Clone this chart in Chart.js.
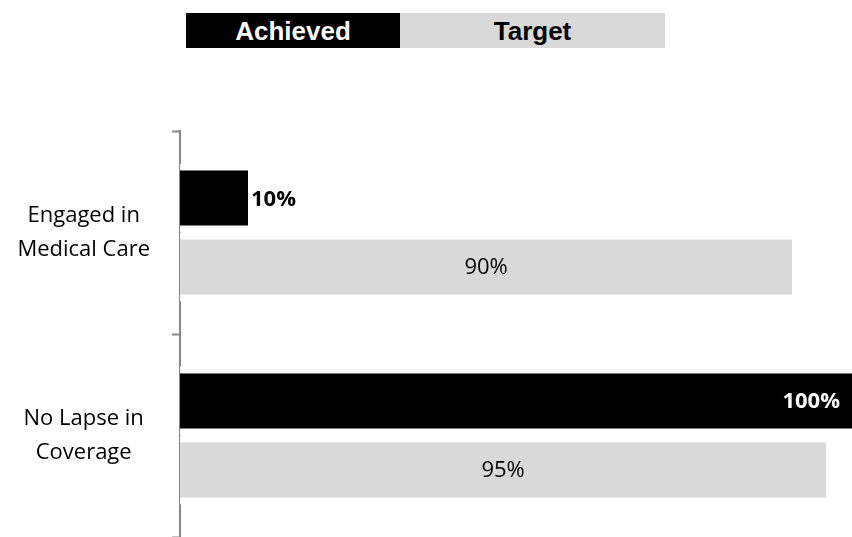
<!DOCTYPE html>
<html>
<head>
<meta charset="utf-8">
<script src="https://cdn.jsdelivr.net/npm/chart.js@4"></script>
<style>
    html, body { margin: 0; padding: 0; background: #fff; }
    #wrap { position: relative; width: 852px; height: 537px; overflow: hidden; }
    #legend { position: absolute; left: 186px; top: 13px; display: flex; }
    #legend div {
        height: 35px; line-height: 36px; text-align: center;
        font-family: "Liberation Sans", Arial, sans-serif; font-weight: bold; font-size: 26px;
    }
    #chart { position: absolute; left: 0; top: 0; }
</style>
</head>
<body>
<div id="wrap">
    <canvas id="chart" width="852" height="537"></canvas>
    <div id="legend">
        <div style="width:214px;background:#000;color:#fff;">Achieved</div>
        <div style="width:265px;background:#d9d9d9;color:#000;">Target</div>
    </div>
</div>
<script>
// данные
const categories = [['Engaged in', 'Medical Care'], ['No Lapse in', 'Coverage']];
const achieved = [10, 100];
const target = [90, 95];

// подписи на столбцах
const barLabels = {
    id: 'barLabels',
    afterDatasetsDraw(chart) {
        const ctx = chart.ctx;
        const area = chart.chartArea;
        ctx.save();
        ctx.textBaseline = 'middle';
        chart.data.datasets.forEach((ds, i) => {
            chart.getDatasetMeta(i).data.forEach((bar, j) => {
                const v = ds.data[j];
                const text = v + '%';
                if (i === 0) {
                    ctx.font = 'bold 22px "Open Sans", sans-serif';
                    if (v < 50) {
                        ctx.fillStyle = '#000';
                        ctx.textAlign = 'left';
                        ctx.fillText(text, bar.x + 3, bar.y + 2);
                    } else {
                        ctx.fillStyle = '#fff';
                        ctx.textAlign = 'right';
                        ctx.fillText(text, Math.min(bar.x, area.right) - 12, bar.y + 1);
                    }
                } else {
                    ctx.font = '22px "Open Sans", sans-serif';
                    ctx.fillStyle = '#000';
                    ctx.textAlign = 'center';
                    ctx.fillText(text, (bar.x + bar.base) / 2, bar.y + 1);
                }
            });
        });
        ctx.restore();
    }
};

const ctx = document.getElementById('chart').getContext('2d');
const chart = new Chart(ctx, {
    type: 'bar',
    data: {
        labels: categories,
        datasets: [
            {
                label: 'Achieved',
                data: achieved,
                backgroundColor: '#000000',
                borderColor: '#ffffff',
                borderWidth: { top: 7, bottom: 7, left: 0, right: 0 },
                borderSkipped: false
            },
            {
                label: 'Target',
                data: target,
                backgroundColor: '#d9d9d9',
                borderColor: '#ffffff',
                borderWidth: { top: 7, bottom: 7, left: 0, right: 0 },
                borderSkipped: false
            }
        ]
    },
    options: {
        indexAxis: 'y',
        responsive: false,
        animation: false,
        categoryPercentage: 0.68,
        barPercentage: 1,
        layout: { padding: { top: 131, right: 0, bottom: 0, left: 0 } },
        plugins: {
            legend: { display: false },
            tooltip: { enabled: false }
        },
        scales: {
            x: {
                display: false,
                min: 0,
                max: 98.8
            },
            y: {
                afterFit(scale) {
                    scale.width = 180;
                    scale.paddingTop = 0;
                    scale.paddingBottom = 0;
                },
                border: { display: true, color: '#868686', width: 2 },
                grid: {
                    offset: true,
                    drawOnChartArea: false,
                    tickLength: 8,
                    tickWidth: 2,
                    tickColor: (c) => c.index === categories.length ? 'rgba(0,0,0,0)' : '#868686'
                },
                ticks: {
                    crossAlign: 'center',
                    padding: 22,
                    color: '#000',
                    font: { family: '"Open Sans", sans-serif', size: 22, lineHeight: 1.55 }
                }
            }
        }
    },
    plugins: [barLabels]
});
</script>
</body>
</html>
